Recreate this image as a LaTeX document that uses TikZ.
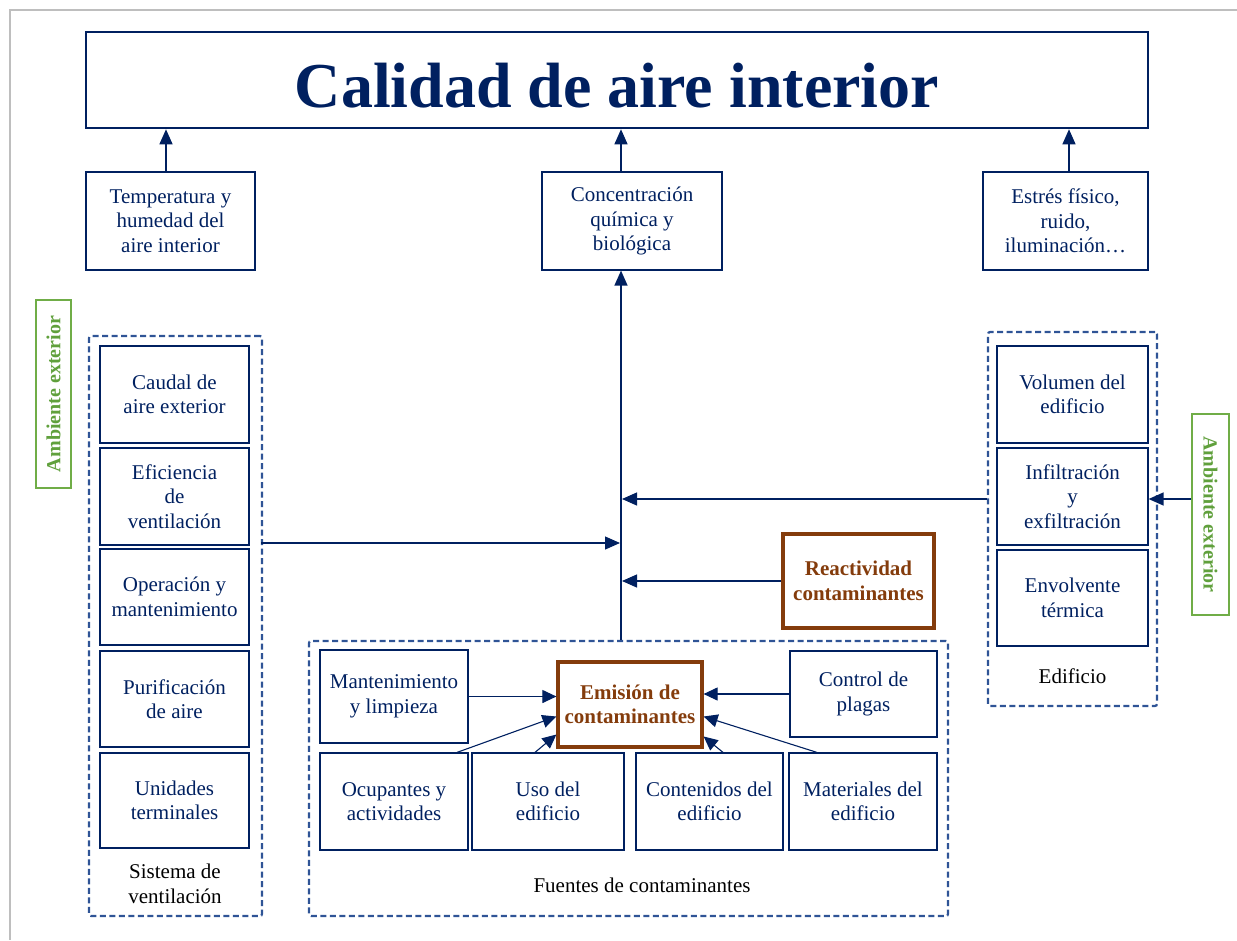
\documentclass[tikz,border=0pt]{standalone}
\usepackage{fontspec}
\setmainfont{Liberation Serif}
\usetikzlibrary{arrows.meta}
\definecolor{navy}{RGB}{0,32,96}
\definecolor{dashblue}{RGB}{47,84,150}
\definecolor{brownc}{RGB}{132,60,12}
\definecolor{greenc}{RGB}{112,173,71}
\definecolor{greentext}{RGB}{96,160,60}
\definecolor{pagegrey}{RGB}{190,190,190}
\begin{document}
\begin{tikzpicture}[x=1pt,y=-1pt,
  sz/.style 2 args={minimum width=#1pt, minimum height=#2pt},
  txt/.style={font=\fontsize{21}{24.5}\selectfont, align=center},
  box/.style={txt, draw=navy, line width=1.2pt, text=navy, inner sep=2pt},
  hotbox/.style={txt, draw=brownc, line width=3.2pt, text=brownc, font=\fontsize{21}{24.5}\selectfont\bfseries, inner sep=2pt},
  group/.style={draw=dashblue, line width=2.2pt, dash pattern=on 6pt off 3.5pt, rounded corners=2pt},
  envbox/.style={draw=greenc, line width=1.8pt, text=greentext, font=\fontsize{20}{24}\selectfont\bfseries, inner sep=0pt},
  lbl/.style={txt, text=black, inner sep=0pt},
  arr/.style={draw=navy, line width=1.3pt, -{Triangle[length=15pt,width=13pt]}},
  sarr/.style={draw=navy, line width=1.1pt, -{Triangle[length=14pt,width=13pt]}}
]
\useasboundingbox (0,0) rectangle (1237,940);
\draw[pagegrey, line width=2.5pt] (10,940) -- (10,10) -- (1237,10);

% title
\node[draw=navy, line width=2.6pt, text=navy, sz={1062}{96}, font=\fontsize{64}{70}\selectfont\bfseries] (title) at (617,80) {\raisebox{-5pt}[44pt][0pt]{Calidad de aire interior}};

% second row
\node[box, sz={169}{98}] (temp) at (170.5,221) {Temperatura y\\humedad del\\aire interior};
\node[box, sz={180}{98}] (conc) at (632,221) {Concentración\\química y\\biológica};
\node[box, sz={165}{98}] (estres) at (1065.5,221) {Estrés físico,\\ruido,\\iluminación…};

\draw[arr] ([xshift=-4.5pt]temp.north) -- ([xshift=-4.5pt]temp.north |- title.south);
\draw[arr] ([xshift=-11pt]conc.north) -- ([xshift=-11pt]conc.north |- title.south);
\draw[arr] ([xshift=3.5pt]estres.north) -- ([xshift=3.5pt]estres.north |- title.south);

% ventilation system
\node[group, sz={173}{580}] (sv) at (175.5,626) {};
\node[box, sz={149}{97}] (caudal) at (174.5,394.5) {Caudal de\\aire exterior};
\node[box, sz={149}{97}] (efic) at (174.5,496.5) {Eficiencia\\de\\ventilación};
\node[box, sz={149}{96}] (oper) at (174.5,597) {Operación y\\mantenimiento};
\node[box, sz={149}{96}] (purif) at (174.5,699) {Purificación\\de aire};
\node[box, sz={149}{95}] (unid) at (174.5,800.5) {Unidades\\terminales};
\node[lbl] (svl) at (175,884) {Sistema de\\ventilación};

\node[envbox, rotate=90, sz={188}{35}] (envl) at (53.5,394) {Ambiente exterior};

% building
\node[group, sz={169}{374}] (ed) at (1072.5,519) {};
\node[box, sz={151}{97}] (vol) at (1072.5,394.5) {Volumen del\\edificio};
\node[box, sz={151}{97}] (infil) at (1072.5,496.5) {Infiltración\\y\\exfiltración};
\node[box, sz={151}{96}] (envol) at (1072.5,598) {Envolvente\\térmica};
\node[lbl] (edl) at (1072.5,676) {Edificio};

\node[envbox, rotate=-90, sz={201}{37}] (envr) at (1210.5,514.5) {Ambiente exterior};
\coordinate (yr) at (0,499);
\draw[arr] (envr.south |- yr) -- (infil.east |- yr);

% reactivity
\node[hotbox, sz={151}{94}] (react) at (858.5,581) {Reactividad\\contaminantes};

% sources
\node[group, sz={639}{275}] (fu) at (628.5,778.5) {};
\node[box, sz={148}{93}] (mant) at (394,696.5) {Mantenimiento\\y limpieza};
\node[hotbox, sz={144}{85}] (emis) at (630,704.5) {Emisión de\\contaminantes};
\node[box, sz={147}{86}] (ctrl) at (863.5,694) {Control de\\plagas};
\node[box, sz={148}{97}] (ocup) at (394,801.5) {Ocupantes y\\actividades};
\node[box, sz={152}{97}] (uso) at (548,801.5) {Uso del\\edificio};
\node[box, sz={147}{97}] (cont) at (709.5,801.5) {Contenidos del\\edificio};
\node[box, sz={148}{97}] (mat) at (863,801.5) {Materiales del\\edificio};
\node[lbl] (ful) at (642,885) {Fuentes de contaminantes};

\draw[sarr] (mant.east) -- (emis.west |- mant.east);
\draw[sarr] (ctrl.west) -- (emis.east |- ctrl.west);
\draw[sarr] ([xshift=63pt]ocup.north) -- ([yshift=-12pt]emis.west);
\draw[sarr] ([xshift=-13pt]uso.north) -- ([yshift=-30pt]emis.west);
\draw[sarr] ([xshift=13.5pt]cont.north) -- ([yshift=-32pt]emis.east);
\draw[sarr] ([xshift=-46pt]mat.north) -- ([yshift=-12pt]emis.east);

% central line
\coordinate (cx) at (621,0);
\draw[arr] (fu.north -| cx) -- (conc.south -| cx);
\coordinate (y1) at (0,543);
\coordinate (y2) at (0,499);
\draw[arr] ([xshift=-2pt]sv.east |- y1) -- ([xshift=-1pt]cx |- y1);
\draw[arr] (ed.west |- y2) -- ([xshift=1pt]cx |- y2);
\draw[arr] (react.west) -- ([xshift=1pt]cx |- react.west);
\end{tikzpicture}
\end{document}
